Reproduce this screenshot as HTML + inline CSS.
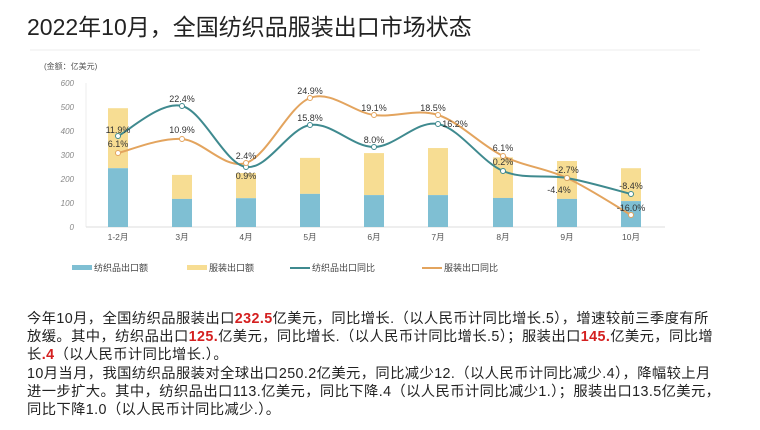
<!DOCTYPE html>
<html><head><meta charset="utf-8"><style>
body{margin:0;width:760px;height:430px;background:#fff;overflow:hidden;font-family:"Liberation Sans","Noto Sans CJK SC",sans-serif;}
.t{position:absolute;left:27px;top:8px;font-size:23px;color:#222;}
.p{position:absolute;left:27px;top:310px;font-size:14.3px;line-height:18.2px;color:#222;white-space:nowrap;letter-spacing:0.4px;}
.r{color:#d42020;font-weight:bold;}
</style></head><body>
<div class="t">2022年10月，全国纺织品服装出口市场状态</div>
<svg id="s" width="760" height="300" style="position:absolute;left:0;top:0" font-family="Liberation Sans,Noto Sans CJK SC,sans-serif">
<line x1="30" y1="50" x2="700" y2="50" stroke="#eee"/>
<text x="44" y="69" font-size="8" fill="#555">(金额：亿美元)</text>
<g font-size="8" fill="#888" font-style="italic" text-anchor="end">
<text x="74" y="86">600</text><text x="74" y="110">500</text><text x="74" y="134">400</text><text x="74" y="158">300</text><text x="74" y="182">200</text><text x="74" y="206">100</text><text x="74" y="230">0</text></g>
<line x1="86" y1="83" x2="86" y2="227" stroke="#eee"/>
<line x1="86" y1="227" x2="665" y2="227" stroke="#ddd"/>
<g id="bars"></g>
<path id="l2" fill="none" stroke="#e3a45e" stroke-width="2"/>
<path id="l1" fill="none" stroke="#3f8a8f" stroke-width="2"/>
<g id="pts"></g>
<g font-size="9" fill="#333" text-anchor="middle">
<text x="118" y="133">11.9%</text><text x="118" y="147">6.1%</text>
<text x="182" y="102">22.4%</text><text x="182" y="133">10.9%</text>
<text x="246" y="159">2.4%</text><text x="246" y="179">0.9%</text>
<text x="310" y="94">24.9%</text><text x="310" y="121">15.8%</text>
<text x="374" y="111">19.1%</text><text x="374" y="143">8.0%</text>
<text x="433" y="111">18.5%</text><text x="455" y="127">16.2%</text>
<text x="503" y="151">6.1%</text><text x="503" y="165">0.2%</text>
<text x="567" y="173">-2.7%</text><text x="559" y="193">-4.4%</text>
<text x="631" y="189">-8.4%</text><text x="631" y="211">-16.0%</text>
</g>
<g font-size="8.5" fill="#555" text-anchor="middle">
<text x="118" y="240">1-2月</text><text x="182" y="240">3月</text><text x="246" y="240">4月</text><text x="310" y="240">5月</text><text x="374" y="240">6月</text><text x="438" y="240">7月</text><text x="503" y="240">8月</text><text x="567" y="240">9月</text><text x="631" y="240">10月</text></g>
<g font-size="9" fill="#444">
<rect x="72" y="265" width="20" height="5" fill="#7fbfd3"/><text x="94" y="271">纺织品出口额</text>
<rect x="187" y="265" width="20" height="5" fill="#f7dd93"/><text x="209" y="271">服装出口额</text>
<line x1="290" y1="268" x2="310" y2="268" stroke="#3f8a8f" stroke-width="2"/><text x="312" y="271">纺织品出口同比</text>
<line x1="422" y1="268" x2="442" y2="268" stroke="#e3a45e" stroke-width="2"/><text x="444" y="271">服装出口同比</text>
</g>
</svg>
<div class="p">今年10月，全国纺织品服装出口<span class="r">232.5</span>亿美元，同比增长.（以人民币计同比增长.5），增速较前三季度有所<br>放缓。其中，纺织品出口<span class="r">125.</span>亿美元，同比增长.（以人民币计同比增长.5）；服装出口<span class="r">145.</span>亿美元，同比增<br>长<span class="r">.4</span>（以人民币计同比增长.）。<br>10月当月，我国纺织品服装对全球出口250.2亿美元，同比减少12.（以人民币计同比减少.4），降幅较上月<br>进一步扩大。其中，纺织品出口113.亿美元，同比下降.4（以人民币计同比减少1.）；服装出口13.5亿美元，<br>同比下降1.0（以人民币计同比减少.）。</div>
<script>
var xs=[118,182,246,310,374,438,503,567,631];
var blue=[245,117,120,138,133,133,121,117,108],tot=[495,217,225,288,308,329,290,275,245];
var y=v=>227-0.24*v,h='';
for(var i=0;i<9;i++){h+='<rect x="'+(xs[i]-10)+'" y="'+y(tot[i])+'" width="20" height="'+(0.24*(tot[i]-blue[i]))+'" fill="#f7dd93"/>';
h+='<rect x="'+(xs[i]-10)+'" y="'+y(blue[i])+'" width="20" height="'+(0.24*blue[i])+'" fill="#7fbfd3"/>';}
document.getElementById('bars').innerHTML=h;
var a=[136,106,167,125,147,124,171,178,194],b=[153,139,163,98,115,115,156,178,215];
function path(p){var d='M'+xs[0]+','+p[0];for(var i=0;i<8;i++){var x0=xs[Math.max(i-1,0)],y0=p[Math.max(i-1,0)],x3=xs[Math.min(i+2,8)],y3=p[Math.min(i+2,8)];
d+=' C'+(xs[i]+(xs[i+1]-x0)/6)+','+(p[i]+(p[i+1]-y0)/6)+' '+(xs[i+1]-(x3-xs[i])/6)+','+(p[i+1]-(y3-p[i])/6)+' '+xs[i+1]+','+p[i+1];}return d;}
document.getElementById('l1').setAttribute('d',path(a));document.getElementById('l2').setAttribute('d',path(b));
var q='';for(var i=0;i<9;i++){q+='<circle cx="'+xs[i]+'" cy="'+a[i]+'" r="2.5" fill="#fff" stroke="#3f8a8f"/><circle cx="'+xs[i]+'" cy="'+b[i]+'" r="2.5" fill="#fff" stroke="#e3a45e"/>';}
document.getElementById('pts').innerHTML=q;
</script>
</body></html>
